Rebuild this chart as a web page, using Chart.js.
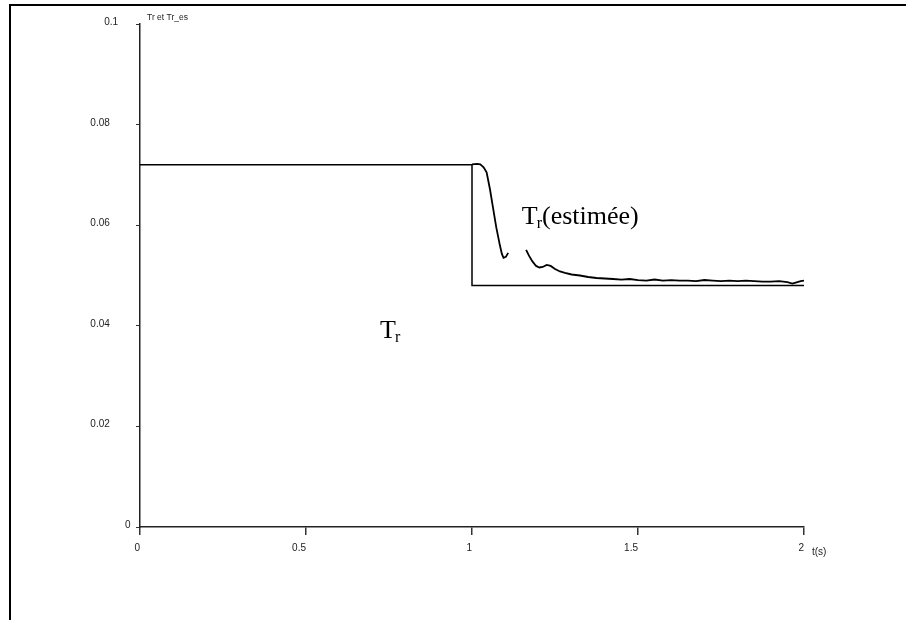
<!DOCTYPE html>
<html>
<head>
<meta charset="utf-8">
<script src="https://cdn.jsdelivr.net/npm/chart.js@4.4.1/dist/chart.umd.min.js"></script>
<style>
    html, body { margin: 0; padding: 0; background: #fff; }
    #wrap { position: relative; width: 906px; height: 620px; overflow: hidden; }
    #frame { position: absolute; left: 9px; top: 4px; width: 1000px; height: 1000px;
             border-top: 2px solid #000; border-left: 2px solid #000; }
    #myChart { position: absolute; left: 0; top: 0; }
</style>
</head>
<body>
<div id="wrap">
    <div id="frame"></div>
    <canvas id="myChart" width="906" height="620"></canvas>
</div>
<script>
// data
var xTicks = [0, 0.5, 1, 1.5, 2];
var xTickLabels = ['0', '0.5', '1', '1.5', '2'];
var yTicks = [0, 0.02, 0.04, 0.06, 0.08, 0.1];
var yTickLabels = ['0', '0.02', '0.04', '0.06', '0.08', '0.1'];

// Tr (true rotor time constant)
var trTime = [0, 1, 1, 2];
var trValue = [0.072, 0.072, 0.048, 0.048];

// Tr estimée (null = break in the trace)
var estTime = [1.000, 1.015, 1.025, 1.035, 1.044, 1.054, 1.063, 1.073, 1.084, 1.090, 1.095, 1.102, 1.109,
    1.135,
    1.163, 1.172, 1.182, 1.193, 1.203, 1.213, 1.225, 1.237, 1.250, 1.265, 1.280, 1.300, 1.325, 1.350,
    1.375, 1.400, 1.425, 1.450, 1.475, 1.500, 1.525, 1.550, 1.575, 1.600, 1.625, 1.650, 1.675, 1.700,
    1.725, 1.750, 1.775, 1.800, 1.825, 1.850, 1.875, 1.900, 1.925, 1.950, 1.965, 1.975, 1.990, 2.000];
var estValue = [0.0721, 0.0722, 0.0721, 0.0715, 0.0705, 0.0672, 0.0636, 0.0596, 0.0560, 0.0543, 0.0535, 0.0537, 0.0545,
    null,
    0.0551, 0.0539, 0.0528, 0.0519, 0.0516, 0.0517, 0.0521, 0.0519, 0.0513, 0.0508, 0.0505, 0.0502, 0.0500, 0.0497,
    0.0495, 0.0494, 0.0493, 0.0492, 0.0493, 0.0491, 0.0490, 0.0492, 0.0490, 0.0491, 0.0490, 0.0490, 0.0489, 0.0491,
    0.0490, 0.0489, 0.0490, 0.0489, 0.0490, 0.0489, 0.0488, 0.0488, 0.0489, 0.0487, 0.0484, 0.0486, 0.0489, 0.0490];

var yTitle = 'Tr et Tr_es';
var xTitle = 't(s)';
// annotation anchors in data units
var trLabelAt = { x: 0.723, y: 0.0375 };
var estLabelAt = { x: 1.150, y: 0.0603 };

function toPoints(xs, ys) {
    var pts = [];
    for (var i = 0; i < xs.length; i++) {
        pts.push({ x: xs[i], y: ys[i] });
    }
    return pts;
}

// draws the odd axis labels and the annotations
var labelsPlugin = {
    id: 'labels',
    afterDraw: function (chart) {
        var ctx = chart.ctx;
        var xs = chart.scales.x, ys = chart.scales.y;
        var left = chart.chartArea.left, bottom = chart.chartArea.bottom;
        ctx.save();
        ctx.fillStyle = '#222';
        ctx.font = '10px "Liberation Sans", Arial, sans-serif';
        ctx.textBaseline = 'alphabetic';

        //y labels sit far from the axis, distance grows with label width
        ctx.textAlign = 'right';
        for (var i = 0; i < yTicks.length; i++) {
            var w = ctx.measureText(yTickLabels[i]).width;
            ctx.fillText(yTickLabels[i], left - 1.5 * w - 1, ys.getPixelForValue(yTicks[i]) + 1);
        }
        //x labels right aligned on the tick
        for (var j = 0; j < xTicks.length; j++) {
            ctx.fillText(xTickLabels[j], xs.getPixelForValue(xTicks[j]), bottom + 24);
        }
        ctx.textAlign = 'left';
        ctx.fillText(xTitle, xs.getPixelForValue(2) + 8, bottom + 28);
        ctx.font = '8.5px "Liberation Sans", Arial, sans-serif';
        ctx.fillText(yTitle, left + 7, 20);

        // T_r annotations
        ctx.fillStyle = '#000';
        drawTr(ctx, xs.getPixelForValue(trLabelAt.x), ys.getPixelForValue(trLabelAt.y), '');
        drawTr(ctx, xs.getPixelForValue(estLabelAt.x), ys.getPixelForValue(estLabelAt.y), '(estimée)');
        ctx.restore();
    }
};

function drawTr(ctx, x, y, rest) {
    ctx.font = '26px "Liberation Serif", "Times New Roman", serif';
    ctx.fillText('T', x, y);
    var w = ctx.measureText('T').width;
    ctx.font = '16px "Liberation Serif", "Times New Roman", serif';
    ctx.fillText('r', x + w - 1, y + 4);
    var w2 = ctx.measureText('r').width;
    if (rest) {
        ctx.font = '26px "Liberation Serif", "Times New Roman", serif';
        ctx.fillText(rest, x + w + w2 - 1, y);
    }
}

var initChart = function () {
    var data = {
        datasets: [
            {
                label: 'Tr',
                data: toPoints(trTime, trValue),
                borderColor: '#000',
                borderWidth: 1.5,
                pointRadius: 0,
                tension: 0
            },
            {
                label: 'Tr_es',
                data: toPoints(estTime, estValue),
                borderColor: '#000',
                borderWidth: 1.8,
                pointRadius: 0,
                tension: 0,
                spanGaps: false
            }
        ]
    };
    var options = {
        responsive: false,
        animation: false,
        events: [],
        layout: { padding: { left: 0, top: 24, right: 102, bottom: 83 } },
        plugins: { legend: { display: false }, tooltip: { enabled: false } },
        scales: {
            x: {
                type: 'linear',
                min: 0,
                max: 2,
                afterBuildTicks: function (scale) {
                    scale.ticks = xTicks.map(function (v) { return { value: v }; });
                },
                afterFit: function (scale) { scale.height = 10; },
                ticks: { display: false },
                grid: { display: true, drawOnChartArea: false, drawTicks: true, tickLength: 8, color: '#333', lineWidth: 1.5 },
                border: { display: true, color: '#222', width: 1.5 }
            },
            y: {
                type: 'linear',
                min: 0,
                max: 0.1,
                afterBuildTicks: function (scale) {
                    scale.ticks = yTicks.map(function (v) { return { value: v }; });
                },
                afterFit: function (scale) { scale.width = 140; },
                ticks: { display: false },
                grid: { display: true, drawOnChartArea: false, drawTicks: true, tickLength: 4, color: '#333', lineWidth: 1 },
                border: { display: true, color: '#222', width: 1.5 }
            }
        }
    };

    var ctx = document.getElementById('myChart');
    new Chart(ctx, {
        type: 'line',
        data: data,
        options: options,
        plugins: [labelsPlugin]
    });
};

initChart();
</script>
</body>
</html>
